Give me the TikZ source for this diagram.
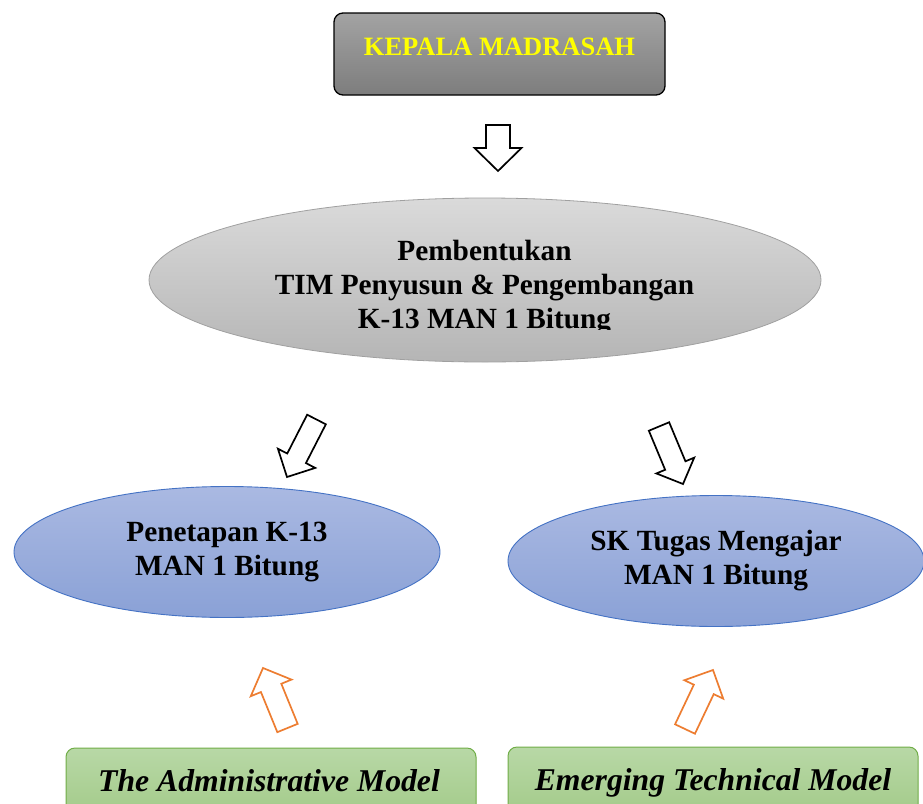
\documentclass[tikz,border=0pt]{standalone}
\usepackage{fontspec}
\setmainfont{Liberation Serif}
\usetikzlibrary{shapes.geometric,calc}
\definecolor{kmtop}{HTML}{A3A3A3}
\definecolor{kmbot}{HTML}{7D7D7D}
\definecolor{kmtext}{HTML}{FFFF00}
\definecolor{gtop}{HTML}{DADADA}
\definecolor{gbot}{HTML}{B5B5B5}
\definecolor{gborder}{HTML}{A0A0A0}
\definecolor{btop}{HTML}{AAB9E2}
\definecolor{bbot}{HTML}{8AA1D6}
\definecolor{bborder}{HTML}{4472C4}
\definecolor{grtop}{HTML}{B8D8A6}
\definecolor{grbot}{HTML}{A2CA88}
\definecolor{grborder}{HTML}{70AD47}
\definecolor{arrorange}{HTML}{ED7D31}
\newcommand\blockarr[6]{%
  \coordinate (#2-neck) at ($(#3)!#6!(#2)$);
  \draw[#1] ($(#2)!#4!90:(#3)$) -- ($(#2-neck)!#4!90:(#3)$) -- ($(#2-neck)!#5!90:(#3)$) -- (#3)
    -- ($(#2-neck)!#5!-90:(#3)$) -- ($(#2-neck)!#4!-90:(#3)$) -- ($(#2)!#4!-90:(#3)$) -- cycle;}
\tikzset{
  kmbox/.style={draw=black, line width=1.3pt, rounded corners=9pt, top color=kmtop, bottom color=kmbot,
    minimum width=331pt, minimum height=82pt, inner sep=0pt},
  kmlabel/.style={text=kmtext, font=\bfseries\fontsize{26.5}{30}\selectfont, inner sep=0pt, anchor=base},
  grayell/.style={ellipse, draw=gborder, line width=0.8pt, top color=gtop, bottom color=gbot,
    minimum width=672pt, minimum height=164pt, inner sep=0pt},
  elltext/.style={font=\bfseries\fontsize{29.3}{34}\selectfont, align=center, inner sep=0pt},
  blueell/.style={ellipse, draw=bborder, line width=0.9pt, top color=btop, bottom color=bbot,
    minimum height=131pt, inner sep=0pt, elltext},
  greenbox/.style={draw=grborder, line width=1pt, rounded corners=9pt, top color=grtop, bottom color=grbot,
    minimum width=410pt, minimum height=72pt, inner sep=0pt},
  greentext/.style={font=\bfseries\itshape\fontsize{31.7}{36}\selectfont, inner sep=0pt, anchor=base},
  blkarrow/.style={draw=black, line width=1.7pt, fill=white, line join=miter},
  orgarrow/.style={draw=arrorange, line width=1.7pt, fill=white, line join=miter},
}
\begin{document}
\begin{tikzpicture}[x=1pt, y=-1pt]
\useasboundingbox (0,0) rectangle (923,803);
% top box
\node[kmbox] (km) at (499.5,54) {};
\node[kmlabel] (kmt) at (499.5,55) {KEPALA MADRASAH};
% down arrow
\coordinate (a1tail) at (498,125);
\coordinate (a1tip) at (498,171);
\blockarr{blkarrow}{a1tail}{a1tip}{12pt}{23.5pt}{23pt}
% gray ellipse
\node[grayell] (tim) at (485,280) {};
\begin{scope}
  \clip (0,0) rectangle (923,329);
  \node[elltext] (timt) at (484.5,288) {Pembentukan\\TIM Penyusun \& Pengembangan\\K-13 MAN 1 Bitung};
\end{scope}
% tilted black arrows
\coordinate (a2tail) at (316.5,419.5);
\coordinate (a2tip) at (287,477);
\blockarr{blkarrow}{a2tail}{a2tip}{10.5pt}{21pt}{21pt}
\coordinate (a3tail) at (659,426.5);
\coordinate (a3tip) at (683,484);
\blockarr{blkarrow}{a3tail}{a3tip}{11pt}{20.5pt}{20pt}
% blue ellipses
\node[blueell, minimum width=426pt] (pen) at (227,552) {Penetapan K-13\\MAN 1 Bitung};
\node[blueell, minimum width=416pt] (sk) at (716,561) {SK Tugas Mengajar\\MAN 1 Bitung};
% orange arrows
\coordinate (a4tail) at (287.5,728);
\coordinate (a4tip) at (263,668);
\blockarr{orgarrow}{a4tail}{a4tip}{11pt}{22pt}{21.5pt}
\coordinate (a5tail) at (685,729);
\coordinate (a5tip) at (713,670);
\blockarr{orgarrow}{a5tail}{a5tip}{11pt}{21.5pt}{21.5pt}
% green boxes
\node[greenbox] (adm) at (271,784) {};
\node[greentext] (admt) at (269,791) {The Administrative Model};
\node[greenbox] (emt) at (713,783) {};
\node[greentext] (emtt) at (713,790) {Emerging Technical Model};
\end{tikzpicture}
\end{document}
